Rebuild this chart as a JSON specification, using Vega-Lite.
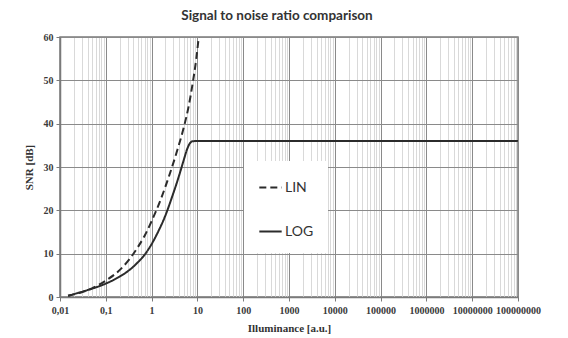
{
  "$schema": "https://vega.github.io/schema/vega-lite/v6.json",
  "width": 458,
  "height": 260,
  "autosize": {"type": "none"},
  "padding": {"left": 60, "top": 37, "right": 50, "bottom": 41},
  "background": "white",
  "title": {
    "text": "Signal to noise ratio comparison",
    "font": "Lato",
    "fontSize": 13.5,
    "fontWeight": "bold",
    "color": "#333333",
    "anchor": "middle",
    "dx": -12,
    "offset": 10
  },
  "config": {
    "view": {"stroke": "#7a7a7a", "strokeWidth": 1.5},
    "axis": {
      "labelFont": "Liberation Serif",
      "labelFontWeight": "bold",
      "labelFontSize": 10,
      "labelColor": "#3a3a3a",
      "titleFont": "Liberation Serif",
      "titleFontWeight": "bold",
      "titleFontSize": 11,
      "titleColor": "#333333",
      "domainColor": "#7a7a7a",
      "domainWidth": 1.5,
      "tickColor": "#7a7a7a",
      "tickSize": 4
    }
  },
  "data": {
    "values": [
      {"series": "LIN", "x": 0.015, "snr": 0.3},
      {"series": "LIN", "x": 0.0316, "snr": 1.2},
      {"series": "LIN", "x": 0.05, "snr": 2.0},
      {"series": "LIN", "x": 0.1, "snr": 3.8},
      {"series": "LIN", "x": 0.2, "snr": 6.2},
      {"series": "LIN", "x": 0.316, "snr": 8.5},
      {"series": "LIN", "x": 0.5, "snr": 11.5},
      {"series": "LIN", "x": 0.71, "snr": 14.2},
      {"series": "LIN", "x": 1.0, "snr": 17.5},
      {"series": "LIN", "x": 1.58, "snr": 22.5},
      {"series": "LIN", "x": 2.51, "snr": 28.5},
      {"series": "LIN", "x": 3.55, "snr": 33.5},
      {"series": "LIN", "x": 5.0, "snr": 39},
      {"series": "LIN", "x": 6.3, "snr": 43.5},
      {"series": "LIN", "x": 7.94, "snr": 49.5},
      {"series": "LIN", "x": 9.33, "snr": 54.5},
      {"series": "LIN", "x": 10.7, "snr": 60},
      {"series": "LOG", "x": 0.015, "snr": 0.3},
      {"series": "LOG", "x": 0.04, "snr": 1.6},
      {"series": "LOG", "x": 0.1, "snr": 3.1},
      {"series": "LOG", "x": 0.2, "snr": 4.7},
      {"series": "LOG", "x": 0.316, "snr": 6.1},
      {"series": "LOG", "x": 0.5, "snr": 8.0},
      {"series": "LOG", "x": 0.71, "snr": 9.8},
      {"series": "LOG", "x": 1.0, "snr": 12.2},
      {"series": "LOG", "x": 1.41, "snr": 15.2},
      {"series": "LOG", "x": 2.0, "snr": 18.8},
      {"series": "LOG", "x": 2.82, "snr": 23.2},
      {"series": "LOG", "x": 3.98, "snr": 28.0},
      {"series": "LOG", "x": 5.0, "snr": 31.5},
      {"series": "LOG", "x": 6.0, "snr": 34.2},
      {"series": "LOG", "x": 6.9, "snr": 35.5},
      {"series": "LOG", "x": 7.9, "snr": 35.95},
      {"series": "LOG", "x": 10, "snr": 36},
      {"series": "LOG", "x": 100000000, "snr": 36}
    ]
  },
  "mark": {"type": "line", "interpolate": "monotone", "strokeWidth": 2, "clip": true},
  "encoding": {
    "x": {
      "field": "x",
      "type": "quantitative",
      "scale": {"type": "log", "domain": [0.01, 100000000], "nice": false},
      "axis": {
        "title": "Illuminance [a.u.]",
        "titlePadding": 7,
        "values": [0.01,0.02,0.03,0.04,0.05,0.06,0.07,0.08,0.09,
                   0.1,0.2,0.3,0.4,0.5,0.6,0.7,0.8,0.9,
                   1,2,3,4,5,6,7,8,9,
                   10,20,30,40,50,60,70,80,90,
                   100,200,300,400,500,600,700,800,900,
                   1000,2000,3000,4000,5000,6000,7000,8000,9000,
                   10000,20000,30000,40000,50000,60000,70000,80000,90000,
                   100000,200000,300000,400000,500000,600000,700000,800000,900000,
                   1000000,2000000,3000000,4000000,5000000,6000000,7000000,8000000,9000000,
                   10000000,20000000,30000000,40000000,50000000,60000000,70000000,80000000,90000000,
                   100000000],
        "labelOverlap": false,
        "labelFlush": false,
        "labelPadding": 4,
        "labelExpr": "abs(log(datum.value)/LN10 - round(log(datum.value)/LN10)) < 0.000001 ? (datum.value == 0.01 ? '0,01' : (datum.value == 0.1 ? '0,1' : format(datum.value, 'd'))) : ''",
        "gridColor": {
          "condition": {"test": "abs(log(datum.value)/LN10 - round(log(datum.value)/LN10)) < 0.000001", "value": "#8a8a8a"},
          "value": "#d9d9d9"
        },
        "tickOpacity": {
          "condition": {"test": "abs(log(datum.value)/LN10 - round(log(datum.value)/LN10)) < 0.000001", "value": 1},
          "value": 0
        }
      }
    },
    "y": {
      "field": "snr",
      "type": "quantitative",
      "scale": {"domain": [0, 60], "nice": false},
      "axis": {
        "title": "SNR [dB]",
        "values": [0, 10, 20, 30, 40, 50, 60],
        "gridColor": "#8a8a8a",
        "titlePadding": 9,
        "labelPadding": 3
      }
    },
    "color": {
      "field": "series",
      "type": "nominal",
      "scale": {"range": ["#2b2b2b", "#2b2b2b"]},
      "legend": null
    },
    "strokeDash": {
      "field": "series",
      "type": "nominal",
      "scale": {"domain": ["LIN", "LOG"], "range": [[7, 4], [1, 0]]},
      "legend": {
        "title": null,
        "orient": "none",
        "legendX": 184,
        "legendY": 124,
        "padding": 14,
        "fillColor": "white",
        "symbolType": "stroke",
        "symbolSize": 500,
        "symbolStrokeWidth": 2,
        "symbolStrokeColor": "#2b2b2b",
        "labelFont": "Lato",
        "labelFontSize": 14,
        "labelColor": "#333333",
        "labelOffset": 2,
        "rowPadding": 24
      }
    }
  }
}
